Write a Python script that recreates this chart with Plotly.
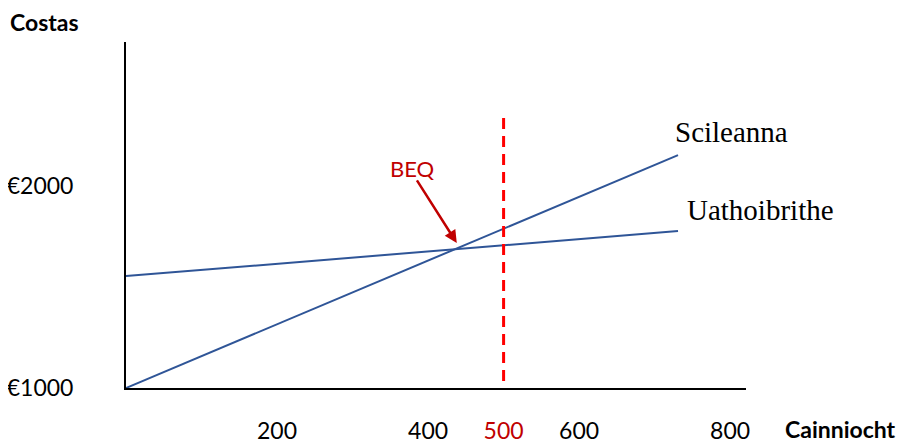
import plotly.graph_objects as go

# Data
quantity = [0, 731]
cost_skilled = [1000, 2153]      # Scileanna
cost_auto = [1554, 1777]         # Uathoibrithe
beq_quantity = 500
beq_line_costs = [2337, 1000]
x_tick_vals = [200, 400, 500, 600, 800]
x_tick_text = ["200", "400", '<span style="color:#C00000">500</span>', "600", "800"]
y_tick_vals = [1000, 2000]
y_tick_text = ["€1000", "€2000"]

BLUE = "#2F5597"
DARKRED = "#C00000"

fig = go.Figure()
fig.add_trace(go.Scatter(x=quantity, y=cost_skilled, mode="lines",
                         line=dict(color=BLUE, width=2), showlegend=False, hoverinfo="skip"))
fig.add_trace(go.Scatter(x=quantity, y=cost_auto, mode="lines",
                         line=dict(color=BLUE, width=2), showlegend=False, hoverinfo="skip"))
fig.add_trace(go.Scatter(x=[beq_quantity, beq_quantity], y=beq_line_costs, mode="lines",
                         line=dict(color="#FF0000", width=3, dash="11px,7px"),
                         showlegend=False, hoverinfo="skip"))

# page body has an 8px margin, so the figure is sized/offset accordingly
L, R, T, B = 118, 164, 34, 55
fig.update_layout(
    width=902, height=435,
    margin=dict(l=L, r=R, t=T, b=B),
    paper_bgcolor="white", plot_bgcolor="white",
    font=dict(family="Lato", size=23, color="black"),
    xaxis=dict(range=[0, 821], showgrid=False, zeroline=False, automargin=False,
               showline=True, linecolor="black", linewidth=2,
               tickvals=x_tick_vals, ticktext=x_tick_text,
               ticks="outside", ticklen=21, tickcolor="rgba(0,0,0,0)",
               tickfont=dict(family="Lato", size=23, color="black")),
    yaxis=dict(range=[1000, 2713], showgrid=False, zeroline=False, automargin=False,
               showline=True, linecolor="black", linewidth=2,
               tickvals=y_tick_vals, ticktext=y_tick_text,
               ticks="outside", ticklen=46, tickcolor="rgba(0,0,0,0)",
               tickfont=dict(family="Lato", size=23, color="black")),
)

annotations = [
    dict(text="<b>Costas</b>", xref="paper", yref="paper", x=-0.132, y=1.058,
         showarrow=False, xanchor="center", yanchor="middle",
         font=dict(family="Lato", size=23, color="black")),
    dict(text="<b>Cainniocht</b>", xref="paper", yref="paper", x=1.152, y=-0.119,
         showarrow=False, xanchor="center", yanchor="middle",
         font=dict(family="Lato", size=23, color="black")),
    dict(text="Scileanna", xref="paper", yref="paper", x=0.977, y=0.740, showarrow=False,
         xanchor="center", yanchor="middle",
         font=dict(family="Liberation Serif", size=29, color="black")),
    dict(text="Uathoibrithe", xref="paper", yref="paper", x=1.0226, y=0.514, showarrow=False,
         xanchor="center", yanchor="middle",
         font=dict(family="Liberation Serif", size=29, color="black")),
    dict(text="BEQ", x=380, y=2089, showarrow=False, xanchor="center", yanchor="middle",
         font=dict(family="Lato", size=22, color=DARKRED)),
    dict(text="", x=438, y=1718, ax=384, ay=2035, axref="x", ayref="y",
         showarrow=True, arrowhead=2, arrowsize=1, arrowwidth=2.5, arrowcolor=DARKRED),
]
fig.update_layout(annotations=annotations)

fig.write_html("out.html")
